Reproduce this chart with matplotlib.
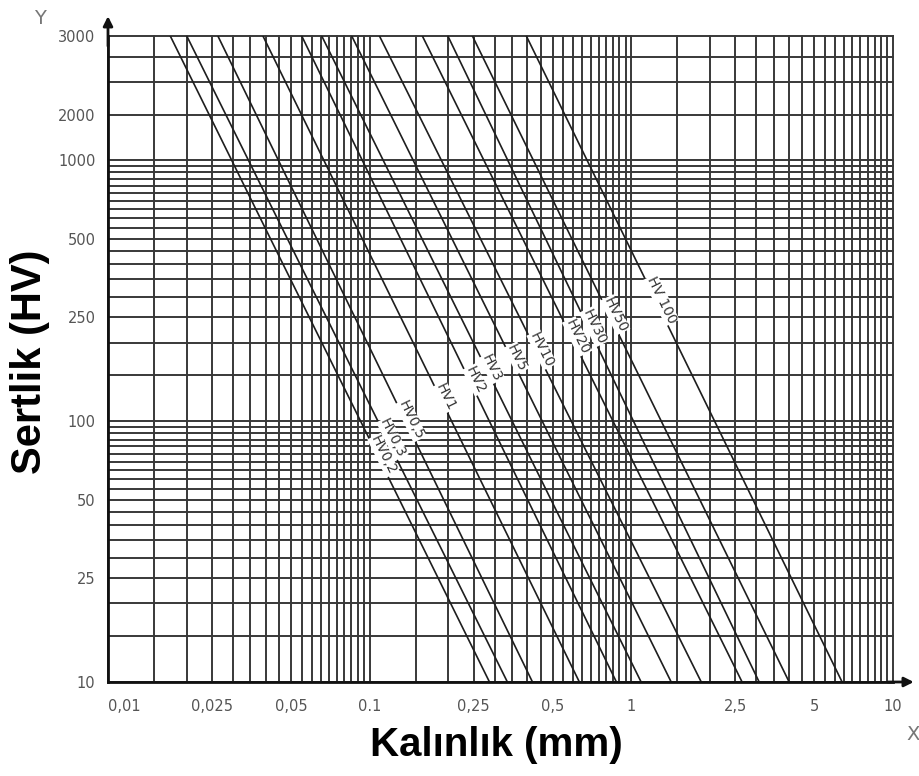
import matplotlib.pyplot as plt
import numpy as np
from matplotlib.ticker import FixedLocator, NullFormatter
from matplotlib.transforms import offset_copy

# line names and where each line meets the top (3000 HV) and bottom (10 HV)
names = ['HV0,2', 'HV0,3', 'HV0,5', 'HV1', 'HV2', 'HV3', 'HV5',
         'HV10', 'HV20', 'HV30', 'HV50', 'HV 100']
hv_ends = [3000, 10]
thick_3000 = [0.0173, 0.0200, 0.0263, 0.0391, 0.0550, 0.0656, 0.0854,
              0.109, 0.159, 0.199, 0.247, 0.397]
thick_10 = [0.287, 0.336, 0.419, 0.633, 0.877, 1.09, 1.42,
            1.85, 2.65, 3.08, 4.01, 6.39]
label_hv = [74, 86, 101, 124, 144, 160, 175, 188, 211, 230, 256, 292]

# grid steps inside each decade
steps = [1, 1.5, 2, 2.5, 3, 3.5, 4, 4.5, 5, 5.5, 6, 6.5, 7, 7.5, 8, 8.5, 9, 9.5]
x_grid = [d * k for d in [0.01, 0.1, 1] for k in steps] + [10]
y_grid = [d * k for d in [10, 100] for k in steps] + [1000, 1500, 2000, 2500, 3000]

x_ticks = [0.01, 0.025, 0.05, 0.1, 0.25, 0.5, 1, 2.5, 5, 10]
x_ticklabels = ['0,01', '0,025', '0,05', '0.1', '0,25', '0,5', '1', '2,5', '5', '10']
y_ticks = [10, 25, 50, 100, 250, 500, 1000, 1500, 3000]
y_ticklabels = ['10', '25', '50', '100', '250', '500', '1000', '2000', '3000']

fig = plt.figure(figsize=(9.2, 7.76), dpi=100)
ax = fig.add_axes([108/920, 1 - 682/776, 785/920, 646/776])
ax.set_xscale('log')
ax.set_yscale('log')
ax.set_xlim(0.01, 10)
ax.set_ylim(10, 3000)

gcol = '#383838'
for xv in x_grid:
    ax.axvline(xv, color=gcol, lw=1.4, zorder=1, clip_on=False)
for yv in y_grid:
    ax.axhline(yv, color=gcol, lw=1.4, zorder=1, clip_on=False)

for i in range(len(names)):
    ax.plot([thick_3000[i], thick_10[i]], hv_ends, color='#1e1e1e', lw=1.2, zorder=2)

fig.canvas.draw()
shifted = offset_copy(ax.transData, fig=fig, x=6, y=0, units='dots')
for i in range(len(names)):
    lx = 10 ** np.interp(np.log10(label_hv[i]), np.log10([10, 3000]),
                         np.log10([thick_10[i], thick_3000[i]]))
    p0 = ax.transData.transform((thick_3000[i], 3000))
    p1 = ax.transData.transform((thick_10[i], 10))
    ang = np.degrees(np.arctan2(p1[1] - p0[1], p1[0] - p0[0]))
    ax.text(lx, label_hv[i], names[i], rotation=ang, ha='center', va='center',
            fontsize=10, color='#333333', rotation_mode='anchor', zorder=3,
            transform=shifted,
            bbox=dict(facecolor='white', edgecolor='none', pad=0.4))

ax.xaxis.set_major_locator(FixedLocator(x_ticks))
ax.set_xticklabels(x_ticklabels)
ax.yaxis.set_major_locator(FixedLocator(y_ticks))
ax.set_yticklabels(y_ticklabels)
ax.xaxis.set_minor_formatter(NullFormatter())
ax.yaxis.set_minor_formatter(NullFormatter())
ax.tick_params(which='both', length=0, labelsize=10.5, labelcolor='#555555')
ax.tick_params(axis='x', pad=12)
ax.tick_params(axis='y', pad=9)
ax.get_xticklabels()[0].set_ha('left')

for s in ['top', 'right']:
    ax.spines[s].set_visible(False)
for s in ['left', 'bottom']:
    ax.spines[s].set_color('#111111')
    ax.spines[s].set_linewidth(2)

# axis arrows
ax.annotate('', xy=(0, 1.035), xytext=(0, 0.98), xycoords='axes fraction',
            arrowprops=dict(arrowstyle='-|>', color='#111111', lw=2, mutation_scale=14))
ax.annotate('', xy=(1.03, 0), xytext=(0.99, 0), xycoords='axes fraction',
            arrowprops=dict(arrowstyle='-|>', color='#111111', lw=2, mutation_scale=14))
fig.text(40/920, 1 - 18/776, 'Y', fontsize=14, color='#777777', ha='center', va='center')
fig.text(913/920, 1 - 735/776, 'X', fontsize=14, color='#777777', ha='center', va='center')

fig.text(30/920, 1 - 362/776, 'Sertlik (HV)', rotation=90, fontsize=30,
         fontweight='bold', family='Liberation Sans', ha='center', va='center')
fig.text(496/920, 1 - 745/776, 'Kalınlık (mm)', fontsize=29,
         fontweight='bold', family='Liberation Sans', ha='center', va='center')

fig.savefig('out.png', dpi=100, facecolor='white')
